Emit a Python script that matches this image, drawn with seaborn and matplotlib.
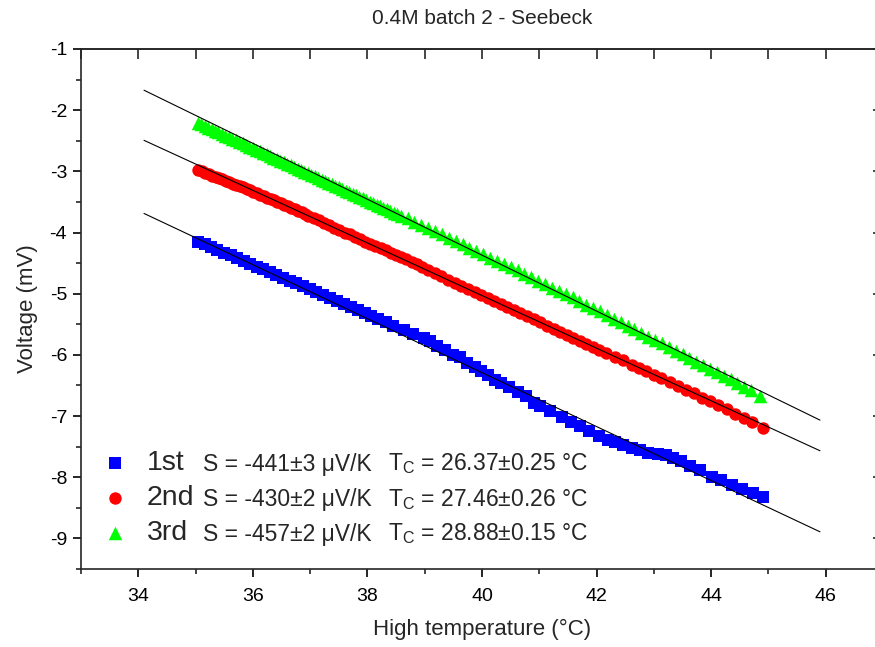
import numpy as np
import pandas as pd
import matplotlib
matplotlib.use("Agg")
import matplotlib.pyplot as plt
import seaborn as sns
from matplotlib.ticker import MultipleLocator

# ---------------- data ----------------
blue_x = [35.05, 35.16, 35.27, 35.38, 35.50, 35.61, 35.72, 35.84, 35.95, 36.07,
          36.18, 36.30, 36.41, 36.53, 36.65, 36.76, 36.88, 37.00, 37.11, 37.23,
          37.35, 37.47, 37.59, 37.71, 37.83, 37.95, 38.07, 38.19, 38.32, 38.45,
          38.63, 38.80, 38.98, 39.09, 39.22, 39.35, 39.49, 39.62, 39.73, 39.88,
          39.99, 40.11, 40.23, 40.34, 40.48, 40.62, 40.77, 40.90, 41.01, 41.19,
          41.40, 41.56, 41.71, 41.87, 42.04, 42.20,
          42.32, 42.46, 42.61, 42.76, 42.90, 43.08, 43.22, 43.34, 43.48, 43.63,
          43.80, 44.01, 44.18, 44.36, 44.53, 44.73, 44.91]
blue_y = [-4.15, -4.19, -4.24, -4.28, -4.33, -4.37, -4.42, -4.46, -4.51, -4.56,
          -4.60, -4.65, -4.69, -4.74, -4.79, -4.83, -4.88, -4.93, -4.97, -5.02,
          -5.07, -5.12, -5.17, -5.22, -5.27, -5.32, -5.37, -5.42, -5.47, -5.52,
          -5.59, -5.66, -5.73, -5.78, -5.85, -5.92, -6.00, -6.04, -6.13, -6.19,
          -6.27, -6.33, -6.41, -6.46, -6.52, -6.60, -6.68, -6.78, -6.83, -6.92,
          -7.01, -7.10, -7.17, -7.25, -7.33, -7.39,
          -7.42, -7.47, -7.52, -7.55, -7.60, -7.62, -7.63, -7.69, -7.74, -7.81,
          -7.88, -7.99, -8.05, -8.12, -8.19, -8.26, -8.33]

red_x = [35.05, 35.11, 35.17, 35.23, 35.29, 35.35, 35.41, 35.47, 35.53, 35.59,
         35.65, 35.71, 35.77, 35.83, 35.89, 35.95, 36.01, 36.07, 36.13, 36.19,
         36.25, 36.31, 36.37, 36.43, 36.49, 36.55, 36.61, 36.67, 36.73, 36.79,
         36.85, 36.91, 36.97,
         37.06, 37.15, 37.24, 37.33, 37.42, 37.51, 37.60, 37.69, 37.78, 37.87,
         37.96, 38.05, 38.14, 38.23, 38.32, 38.41, 38.50, 38.59, 38.68, 38.77,
         38.86, 38.95,
         39.06, 39.18, 39.29, 39.41, 39.52, 39.64, 39.75, 39.87, 39.98, 40.10,
         40.21, 40.33, 40.44, 40.56, 40.67, 40.79, 40.90, 41.02, 41.13, 41.25,
         41.36, 41.48, 41.59, 41.71, 41.82, 41.94, 42.05, 42.17,
         42.33, 42.46, 42.61, 42.74, 42.87, 43.01, 43.13, 43.28, 43.42, 43.56,
         43.70, 43.84, 43.98, 44.12, 44.27, 44.42, 44.58, 44.72, 44.90]
red_y = [-2.98, -3.00, -3.02, -3.04, -3.07, -3.09, -3.11, -3.13, -3.15, -3.17,
         -3.20, -3.22, -3.24, -3.26, -3.29, -3.31, -3.33, -3.36, -3.38, -3.40,
         -3.43, -3.45, -3.47, -3.50, -3.52, -3.55, -3.57, -3.60, -3.62, -3.65,
         -3.67, -3.70, -3.73,
         -3.76, -3.80, -3.84, -3.88, -3.92, -3.96, -4.00, -4.03, -4.07, -4.11,
         -4.15, -4.18, -4.22, -4.25, -4.29, -4.33, -4.36, -4.40, -4.44, -4.48,
         -4.52, -4.56,
         -4.61, -4.66, -4.71, -4.77, -4.82, -4.87, -4.92, -4.97, -5.02, -5.07,
         -5.12, -5.17, -5.22, -5.27, -5.32, -5.37, -5.42, -5.47, -5.52, -5.57,
         -5.62, -5.67, -5.72, -5.77, -5.82, -5.87, -5.92, -5.97,
         -6.04, -6.09, -6.16, -6.21, -6.27, -6.33, -6.38, -6.45, -6.51, -6.57,
         -6.63, -6.70, -6.76, -6.82, -6.89, -6.96, -7.03, -7.10, -7.20]

green_x = [35.04, 35.10, 35.16, 35.22, 35.28, 35.34, 35.40, 35.46, 35.52, 35.58,
           35.64, 35.70, 35.76, 35.82, 35.88, 35.94, 36.00, 36.06, 36.12, 36.18,
           36.24, 36.30, 36.36, 36.42, 36.48, 36.54, 36.60, 36.66, 36.72, 36.78,
           36.84, 36.90, 36.96, 37.02, 37.08, 37.14, 37.20, 37.26, 37.32, 37.38,
           37.44, 37.50, 37.56, 37.62, 37.68, 37.74, 37.80, 37.86, 37.92, 37.98,
           38.04, 38.10, 38.16, 38.22, 38.28, 38.34, 38.40, 38.46, 38.52, 38.58,
           38.70, 38.82, 38.94, 39.06, 39.18, 39.30, 39.42, 39.54, 39.66, 39.78,
           39.90, 40.02, 40.14, 40.26, 40.38, 40.50, 40.62, 40.74, 40.86, 40.98,
           41.10, 41.22, 41.34, 41.46, 41.58, 41.70, 41.82, 41.94, 42.06, 42.18,
           42.30, 42.42, 42.54, 42.66, 42.78, 42.90, 43.02, 43.14, 43.26, 43.38,
           43.50, 43.62, 43.74, 43.86, 43.98, 44.10, 44.22, 44.34, 44.46, 44.58,
           44.70, 44.86]
green_y = [-2.21, -2.23, -2.26, -2.29, -2.31, -2.34, -2.36, -2.39, -2.42, -2.44,
           -2.47, -2.49, -2.52, -2.54, -2.57, -2.60, -2.62, -2.65, -2.67, -2.70,
           -2.72, -2.75, -2.78, -2.80, -2.83, -2.85, -2.88, -2.90, -2.93, -2.96,
           -2.98, -3.01, -3.03, -3.06, -3.08, -3.11, -3.14, -3.16, -3.19, -3.21,
           -3.24, -3.26, -3.29, -3.32, -3.34, -3.37, -3.39, -3.42, -3.44, -3.47,
           -3.50, -3.52, -3.55, -3.57, -3.60, -3.62, -3.65, -3.68, -3.70, -3.73,
           -3.77, -3.83, -3.88, -3.93, -3.98, -4.03, -4.09, -4.14, -4.19, -4.25,
           -4.30, -4.35, -4.41, -4.46, -4.51, -4.57, -4.62, -4.68, -4.73, -4.79,
           -4.84, -4.90, -4.95, -5.01, -5.06, -5.12, -5.18, -5.24, -5.29, -5.35,
           -5.41, -5.47, -5.52, -5.58, -5.64, -5.70, -5.75, -5.81, -5.87, -5.93,
           -5.99, -6.05, -6.11, -6.17, -6.23, -6.28, -6.34, -6.40, -6.46, -6.52,
           -6.58, -6.67]

series_names = ["1st", "2nd", "3rd"]
series_colors = ["#0000FF", "#FF0000", "#00FF00"]
series_markers = ["s", "o", "^"]
series_sizes = [72, 80, 95]
fit_slope = [-0.441, -0.430, -0.457]       # mV/K
fit_intercept = [11.35, 12.17, 13.91]      # mV
fit_range = [34.1, 45.9]
s_text = ["S = -441\u00b13 \u03bcV/K", "S = -430\u00b12 \u03bcV/K", "S = -457\u00b12 \u03bcV/K"]
tc_text = ["T$_{\\rm C}$ = 26.37\u00b10.25 \u00b0C",
           "T$_{\\rm C}$ = 27.46\u00b10.26 \u00b0C",
           "T$_{\\rm C}$ = 28.88\u00b10.15 \u00b0C"]

# ---------------- style ----------------
sns.set_theme(style="ticks")
plt.rcParams["font.family"] = ["Liberation Sans", "DejaVu Sans"]
plt.rcParams["mathtext.fontset"] = "custom"
plt.rcParams["mathtext.rm"] = "Liberation Sans"
plt.rcParams["mathtext.it"] = "Liberation Sans:italic"
plt.rcParams["mathtext.bf"] = "Liberation Sans:bold"
plt.rcParams["axes.linewidth"] = 1.2
plt.rcParams["axes.unicode_minus"] = False

W, H = 875, 647
fig = plt.figure(figsize=(W / 100, H / 100), dpi=100)
ax = fig.add_axes([81 / W, (H - 569) / H, 802 / W, 520 / H])
ax.set_facecolor("white")

frames = []
for name, xs, ys in zip(series_names, [blue_x, red_x, green_x], [blue_y, red_y, green_y]):
    frames.append(pd.DataFrame({"T": xs, "V": ys, "run": name}))

for df, name, col, mk, sz in zip(frames, series_names, series_colors,
                                 series_markers, series_sizes):
    sns.scatterplot(data=df, x="T", y="V", marker=mk, color=col, s=sz,
                    linewidth=0, ax=ax, label=name, zorder=2)

for sl, ic in zip(fit_slope, fit_intercept):
    xs = np.array(fit_range)
    sns.lineplot(x=xs, y=ic + sl * xs, color="black", linewidth=0.8, ax=ax,
                 legend=False, zorder=3)

ax.set_xlim(33, 47)
ax.set_ylim(-9.5, -1)
ax.xaxis.set_major_locator(MultipleLocator(2))
ax.xaxis.set_minor_locator(MultipleLocator(1))
ax.yaxis.set_major_locator(MultipleLocator(1))
ax.yaxis.set_minor_locator(MultipleLocator(0.5))
ax.tick_params(axis="both", which="major", direction="out", length=6, width=1.2,
               labelsize=14, colors="black", top=False, right=False)
ax.tick_params(axis="both", which="minor", direction="out", length=3.5, width=1.2,
               top=False, right=False)
ax.tick_params(axis="x", pad=8)
ax.tick_params(axis="y", pad=4)

sec_top = ax.secondary_xaxis("top")
sec_top.set_xticks(np.arange(33, 48, 1))
sec_top.tick_params(direction="in", length=7, width=1.2, labeltop=False)
sec_right = ax.secondary_yaxis("right")
sec_right.set_yticks(np.arange(-9, 0, 1))
sec_right.tick_params(direction="in", length=7, width=1.2, labelright=False)

ax.set_xlabel("High temperature (\u00b0C)", fontsize=16, labelpad=10)
ax.set_ylabel("Voltage (mV)", fontsize=16, labelpad=8)
fig.text((81 + 883) / 2 / W, 1 - 18 / H, "0.4M batch 2 - Seebeck", ha="center",
         va="center", fontsize=15)

leg = ax.legend(loc="upper left", bbox_to_anchor=(101 / W, (H - 450) / H),
                bbox_transform=fig.transFigure, frameon=False, fontsize=20.5,
                handlelength=1.0, handletextpad=0.6, labelspacing=0.32,
                borderpad=0, borderaxespad=0, markerscale=1.0)

baselines = [470.5, 506, 540.5]
for st, tt, b in zip(s_text, tc_text, baselines):
    fig.text(203 / W, (H - b) / H, st, fontsize=16.5, va="baseline", ha="left")
    fig.text(388 / W, (H - b) / H, tt, fontsize=16.5, va="baseline", ha="left")

fig.savefig("out.png", dpi=100)
